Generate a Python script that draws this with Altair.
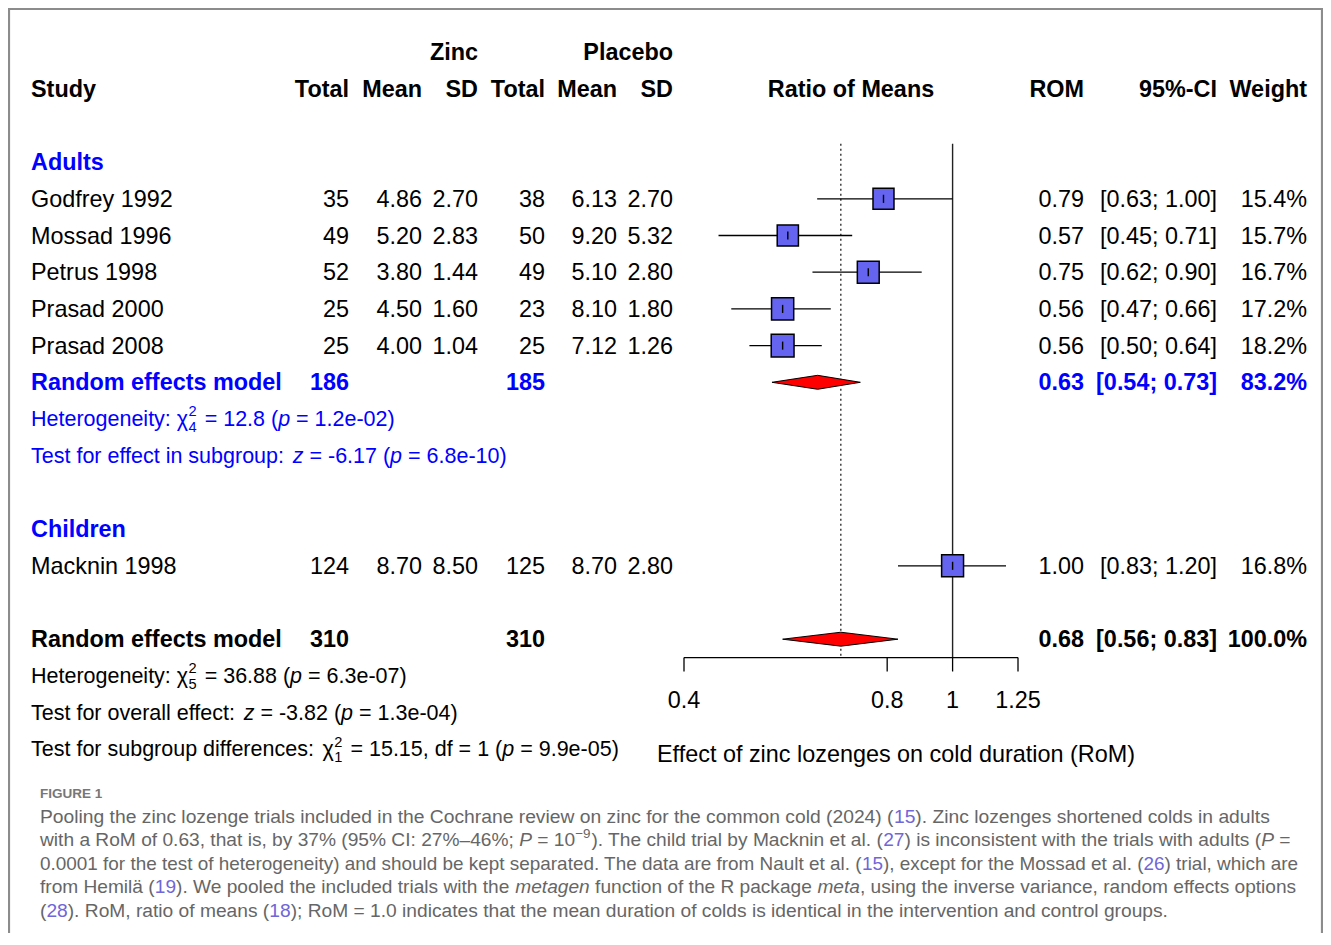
import altair as alt
import pandas as pd

# ---------------- data ----------------
studies = ["Godfrey 1992", "Mossad 1996", "Petrus 1998", "Prasad 2000", "Prasad 2008", "Macknin 1998"]
study_rows = [4, 5, 6, 7, 8, 14]
zinc_total = [35, 49, 52, 25, 25, 124]
zinc_mean = [4.86, 5.20, 3.80, 4.50, 4.00, 8.70]
zinc_sd = [2.70, 2.83, 1.44, 1.60, 1.04, 8.50]
plac_total = [38, 50, 49, 23, 25, 125]
plac_mean = [6.13, 9.20, 5.10, 8.10, 7.12, 8.70]
plac_sd = [2.70, 5.32, 2.80, 1.80, 1.26, 2.80]
rom = [0.79, 0.57, 0.75, 0.56, 0.56, 1.00]
ci_lo = [0.63, 0.45, 0.62, 0.47, 0.50, 0.83]
ci_hi = [1.00, 0.71, 0.90, 0.66, 0.64, 1.20]
weight = [15.4, 15.7, 16.7, 17.2, 18.2, 16.8]

subgroup_names = ["Adults", "Children"]
subgroup_rows = [3, 13]

pooled_names = ["Random effects model", "Random effects model"]
pooled_rows = [9, 16]
pooled_est = [0.631, 0.683]
pooled_lo = [0.54, 0.56]
pooled_hi = [0.73, 0.83]
pooled_weight = [83.2, 100.0]
pooled_zinc_total = [186, 310]
pooled_plac_total = [185, 310]

axis_ticks = [0.4, 0.8, 1.0, 1.25]
axis_tick_labels = ["0.4", "0.8", "1", "1.25"]

# ---------------- style / layout ----------------
FONT = "Liberation Sans"
FS = 23.4      # table text
HFS = 21.5     # heterogeneity / test lines
BLUE = "#0000FF"
SQ_FILL = "#6464F0"
REF_COL = "#6f66d8"
CAP_COL = "#666666"
PAGE = 8
W, H = 1315, 925

row_scale = alt.Scale(domain=[0, 19], range=[44, 44 + 19 * 36.7], nice=False, zero=False)
x_scale = alt.Scale(type="log", domain=[0.4, 1.25], range=[676, 1010], nice=False)

AW = {" ": 278, "!": 278, "%": 889, "(": 333, ")": 333, ",": 278, "-": 333, ".": 278,
      ":": 278, ";": 278, "=": 584, "[": 278, "]": 278, "\u2013": 556, "\u2212": 584, "\u03c7": 500,
      "A": 667, "B": 667, "C": 722, "D": 722, "E": 667, "F": 611, "G": 778, "H": 722, "I": 278,
      "J": 500, "K": 667, "L": 556, "M": 833, "N": 722, "O": 778, "P": 667, "Q": 778, "R": 722,
      "S": 667, "T": 611, "U": 722, "V": 667, "W": 944, "X": 667, "Y": 667, "Z": 611,
      "a": 556, "b": 556, "c": 500, "d": 556, "e": 556, "f": 278, "g": 556, "h": 556, "i": 222,
      "j": 222, "k": 500, "l": 222, "m": 833, "n": 556, "o": 556, "p": 556, "q": 556, "r": 333,
      "s": 500, "t": 278, "u": 556, "v": 500, "w": 722, "x": 500, "y": 500, "z": 500, "\u00e4": 556}


def tw(s, size):
    return sum(AW.get(c, 556) for c in s) / 1000.0 * size


cells = []   # table text positioned on the row scale
caps = []    # caption text positioned in pixels


def add(text, xpage, row, align="left", bold=False, italic=False, color="black", size=FS, store=None):
    (cells if store is None else store).append(dict(
        text=text, px=xpage - PAGE, row=row, align=align, bold=bold,
        italic=italic, color=color, size=round(size, 2)))


def seg_line(parts, x0, row, color, size, store=None, shift=0.21, small=0.68):
    x = x0
    for txt, kind in parts:
        if kind == "supsub":
            sup, sub = txt
            ss = size * small
            add(sup, x + 1, row - shift, color=color, size=ss, store=store)
            add(sub, x + 1, row + shift, color=color, size=ss, store=store)
            x += tw(sup, ss) + 3
        elif kind == "sup":
            ss = size * small
            add(txt, x, row - shift, color=color, size=ss, store=store)
            x += tw(txt, ss) + 1
        else:
            lead = len(txt) - len(txt.lstrip(" "))
            col = REF_COL if kind == "ref" else color
            add(txt.lstrip(" "), x + tw(" " * lead, size), row, color=col,
                italic=(kind == "i"), size=size, store=store)
            x += tw(txt, size)


# headers
add("Zinc", 478, 0, "right", True)
add("Placebo", 673, 0, "right", True)
add("Study", 31, 1, bold=True)
for lab, xp in [("Total", 349), ("Mean", 422), ("SD", 478), ("Total", 545), ("Mean", 617), ("SD", 673),
                ("ROM", 1084), ("95%-CI", 1217), ("Weight", 1307)]:
    add(lab, xp, 1, "right", True)
add("Ratio of Means", 851, 1, "center", True)

for name, r in zip(subgroup_names, subgroup_rows):
    add(name, 31, r, bold=True, color=BLUE)

for i, name in enumerate(studies):
    r = study_rows[i]
    add(name, 31, r)
    add(f"{zinc_total[i]}", 349, r, "right")
    add(f"{zinc_mean[i]:.2f}", 422, r, "right")
    add(f"{zinc_sd[i]:.2f}", 478, r, "right")
    add(f"{plac_total[i]}", 545, r, "right")
    add(f"{plac_mean[i]:.2f}", 617, r, "right")
    add(f"{plac_sd[i]:.2f}", 673, r, "right")
    add(f"{rom[i]:.2f}", 1084, r, "right")
    add(f"[{ci_lo[i]:.2f}; {ci_hi[i]:.2f}]", 1217, r, "right")
    add(f"{weight[i]:.1f}%", 1307, r, "right")

for i, name in enumerate(pooled_names):
    r = pooled_rows[i]
    c = BLUE if i == 0 else "black"
    add(name, 31, r, bold=True, color=c)
    add(f"{pooled_zinc_total[i]}", 349, r, "right", True, color=c)
    add(f"{pooled_plac_total[i]}", 545, r, "right", True, color=c)
    add(f"{pooled_est[i]:.2f}", 1084, r, "right", True, color=c)
    add(f"[{pooled_lo[i]:.2f}; {pooled_hi[i]:.2f}]", 1217, r, "right", True, color=c)
    add(f"{pooled_weight[i]:.1f}%", 1307, r, "right", True, color=c)

seg_line([("Heterogeneity: ", "n"), ("\u03c7", "n"), (("2", "4"), "supsub"),
          (" = 12.8 (", "n"), ("p", "i"), (" = 1.2e-02)", "n")], 31, 10, BLUE, HFS)
seg_line([("Test for effect in subgroup: ", "n"), ("z", "i"), (" = -6.17 (", "n"),
          ("p", "i"), (" = 6.8e-10)", "n")], 31, 11, BLUE, HFS)
seg_line([("Heterogeneity: ", "n"), ("\u03c7", "n"), (("2", "5"), "supsub"),
          (" = 36.88 (", "n"), ("p", "i"), (" = 6.3e-07)", "n")], 31, 17, "black", HFS)
seg_line([("Test for overall effect: ", "n"), ("z", "i"), (" = -3.82 (", "n"),
          ("p", "i"), (" = 1.3e-04)", "n")], 31, 18, "black", HFS)
seg_line([("Test for subgroup differences: ", "n"), ("\u03c7", "n"), (("2", "1"), "supsub"),
          (" = 15.15, df = 1 (", "n"), ("p", "i"), (" = 9.9e-05)", "n")], 31, 19, "black", HFS)

add("Effect of zinc lozenges on cold duration (RoM)", 657, 19.13)

# caption (pixel rows)
cap_lines = [
    [("Pooling the zinc lozenge trials included in the Cochrane review on zinc for the common cold (2024) (", "n"),
     ("15", "ref"), ("). Zinc lozenges shortened colds in adults", "n")],
    [("with a RoM of 0.63, that is, by 37% (95% CI: 27%\u201346%; ", "n"), ("P", "i"), (" = 10", "n"),
     ("\u22129", "sup"), ("). The child trial by Macknin et al. (", "n"), ("27", "ref"),
     (") is inconsistent with the trials with adults (", "n"), ("P", "i"), (" =", "n")],
    [("0.0001 for the test of heterogeneity) and should be kept separated. The data are from Nault et al. (", "n"),
     ("15", "ref"), ("), except for the Mossad et al. (", "n"), ("26", "ref"), (") trial, which are", "n")],
    [("from Hemil\u00e4 (", "n"), ("19", "ref"), ("). We pooled the included trials with the ", "n"),
     ("metagen", "i"), (" function of the R package ", "n"), ("meta", "i"),
     (", using the inverse variance, random effects options", "n")],
    [("(", "n"), ("28", "ref"), ("). RoM, ratio of means (", "n"), ("18", "ref"),
     ("); RoM = 1.0 indicates that the mean duration of colds is identical in the intervention and control groups.", "n")],
]
cap_y = [817, 840, 864, 887, 911]
cap_width = [1230, 1256, 1258, 1257, 1128]   # rendered line widths in the figure
for parts, yp, wd in zip(cap_lines, cap_y, cap_width):
    fs_line = wd / sum(tw(t, 1) for t, k in parts)
    seg_line(parts, 40, yp - PAGE, CAP_COL, fs_line, store=caps, shift=6, small=0.7)
add("FIGURE 1", 40, 794 - PAGE, bold=True, color="#777777", size=13.5, store=caps)

cells_df = pd.DataFrame(cells)
caps_df = pd.DataFrame(caps)


def text_layers(df, yenc, dy=0):
    out = []
    for (align, bold, italic, size), g in df.groupby(["align", "bold", "italic", "size"]):
        out.append(alt.Chart(g).mark_text(
            align=align, baseline="middle", font=FONT, fontSize=float(size), dy=dy,
            fontWeight="bold" if bold else "normal",
            fontStyle="italic" if italic else "normal").encode(
            x=alt.X("px:Q", scale=None, axis=None),
            y=yenc,
            text="text:N",
            color=alt.Color("color:N", scale=None)))
    return out


Y_ROW = alt.Y("row:Q", scale=row_scale, axis=None)

# ---------------- forest marks ----------------
study_df = pd.DataFrame(dict(study=studies, row=study_rows, rom=rom, lo=ci_lo, hi=ci_hi, weight=weight))
study_df["tick_top"] = study_df["row"] - 0.11
study_df["tick_bot"] = study_df["row"] + 0.11

ref_df = pd.DataFrame(dict(x=[1.0], top=[2.5], bot=[16.5]))
dot_df = pd.DataFrame(dict(x=[pooled_est[1]], top=[2.5], bot=[16.5]))

dia_rows = []
for i in range(2):
    r = pooled_rows[i]
    dia_rows += [dict(grp=i, x=pooled_lo[i], top=r, bot=r),
                 dict(grp=i, x=pooled_est[i], top=r - 0.19, bot=r + 0.19),
                 dict(grp=i, x=pooled_hi[i], top=r, bot=r)]
dia_df = pd.DataFrame(dia_rows)

axis_df = pd.DataFrame(dict(x=[axis_ticks[0]], x2=[axis_ticks[-1]], row=[16.5]))
ticks_df = pd.DataFrame(dict(x=axis_ticks, lab=axis_tick_labels, top=[16.5] * 4, bot=[16.88] * 4, lrow=[17.65] * 4))

XS = alt.X("x:Q", scale=x_scale, axis=None)

ref_line = alt.Chart(ref_df).mark_rule(color="#222222", strokeWidth=1.4).encode(
    x=XS, y=alt.Y("top:Q", scale=row_scale, axis=None), y2="bot:Q")
dot_line = alt.Chart(dot_df).mark_rule(color="#222222", strokeWidth=1.3, strokeDash=[2, 3]).encode(
    x=XS, y=alt.Y("top:Q", scale=row_scale, axis=None), y2="bot:Q")
ci_lines = alt.Chart(study_df).mark_rule(color="black", strokeWidth=1.3).encode(
    x=alt.X("lo:Q", scale=x_scale, axis=None), x2="hi:Q", y=Y_ROW)
squares = alt.Chart(study_df).mark_square(filled=True, fill=SQ_FILL, stroke="black", strokeWidth=1.5, opacity=1).encode(
    x=alt.X("rom:Q", scale=x_scale, axis=None), y=Y_ROW,
    size=alt.Size("weight:Q", scale=alt.Scale(domain=[0, 20], range=[0, 572]), legend=None))
inner = alt.Chart(study_df).mark_rule(color="black", strokeWidth=1.4).encode(
    x=alt.X("rom:Q", scale=x_scale, axis=None),
    y=alt.Y("tick_top:Q", scale=row_scale, axis=None), y2="tick_bot:Q")
diamonds = alt.Chart(dia_df).mark_area(orient="vertical", fill="#FF0000", stroke="black", strokeWidth=1, opacity=1).encode(
    x=XS, y=alt.Y("top:Q", scale=row_scale, axis=None), y2="bot:Q", detail="grp:N")
axis_line = alt.Chart(axis_df).mark_rule(color="black", strokeWidth=1.3).encode(
    x=XS, x2="x2:Q", y=Y_ROW)
axis_ticks_l = alt.Chart(ticks_df).mark_rule(color="black", strokeWidth=1.3).encode(
    x=XS, y=alt.Y("top:Q", scale=row_scale, axis=None), y2="bot:Q")
axis_labels = alt.Chart(ticks_df).mark_text(font=FONT, fontSize=FS, align="center", baseline="middle", color="black", dy=1).encode(
    x=XS, y=alt.Y("lrow:Q", scale=row_scale, axis=None), text="lab:N")

border = alt.Chart(pd.DataFrame(dict(a=[0]))).mark_rect(fillOpacity=0, stroke="#8c8c8c", strokeWidth=2.2).encode(
    x=alt.value(1), x2=alt.value(W - 1), y=alt.value(1), y2=alt.value(H + 20))

layers = [border, ref_line, dot_line, ci_lines, squares, inner, diamonds,
          axis_line, axis_ticks_l, axis_labels]
layers += text_layers(cells_df, Y_ROW, dy=1)
layers += text_layers(caps_df, alt.Y("row:Q", scale=None, axis=None))

chart = alt.layer(*layers).properties(
    width=W, height=H, padding=0, autosize=alt.AutoSizeParams(type="none")
).resolve_scale(x="independent", y="independent", size="independent", color="independent"
).configure_view(stroke=None)

chart.save("out.html", embed_options={"renderer": "svg", "actions": False})
